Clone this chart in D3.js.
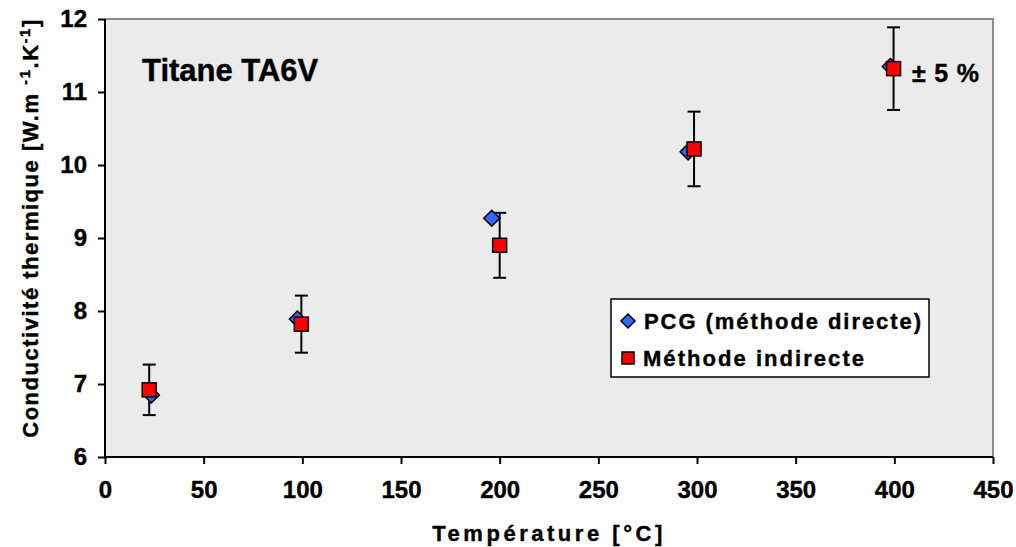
<!DOCTYPE html>
<html>
<head>
<meta charset="utf-8">
<script src="https://cdn.jsdelivr.net/npm/d3@7"></script>
<style>
  html, body { margin: 0; padding: 0; background: #fff; }
  svg { display: block; }
  text { font-family: "Liberation Sans", Arial, Helvetica, sans-serif; font-weight: bold; fill: #000; }
</style>
</head>
<body>
<svg id="chart" width="1016" height="547"></svg>
<script>
// ---- data ----
const pcgTemps = [23.5, 97.5, 196, 295.5, 398];
const pcgValues = [6.85, 7.89, 9.27, 10.18, 11.35];
const indTemps = [22.4, 99.5, 200, 298.5, 399.6];
const indValues = [6.92, 7.82, 8.90, 10.22, 11.32];
const errorPct = 5;
const xTicks = [0, 50, 100, 150, 200, 250, 300, 350, 400, 450];
const yTicks = [6, 7, 8, 9, 10, 11, 12];
const seriesNames = ["PCG (méthode directe)", "Méthode indirecte"];

const svg = d3.select("#chart");
const L = 105, R = 993, T = 19, B = 457;
const x = d3.scaleLinear().domain([0, 450]).range([L, R]);
const y = d3.scaleLinear().domain([6, 12]).range([B, T]);

function fitWidth(sel, target) {
  const node = sel.node();
  const natural = node.getComputedTextLength();
  const n = node.textContent.length;
  if (n > 1) sel.style("letter-spacing", ((target - natural) / (n - 1)) + "px");
}

// plot background
svg.append("rect").attr("x", L).attr("y", T).attr("width", R - L).attr("height", B - T)
  .attr("fill", "#ebebeb");
// top & right border (grey)
svg.append("path").attr("d", `M${L},${T}H${R}V${B}`).attr("fill", "none")
  .attr("stroke", "#8c8c8c").attr("stroke-width", 2);

// axes
const xAxis = svg.append("g").attr("transform", `translate(0,${B})`)
  .call(d3.axisBottom(x).tickValues(xTicks).tickSize(7).tickPadding(17).tickFormat(d3.format("d")));
const yAxis = svg.append("g").attr("transform", `translate(${L},0)`)
  .call(d3.axisLeft(y).tickValues(yTicks).tickSize(7).tickPadding(11).tickFormat(d3.format("d")));
[xAxis, yAxis].forEach(g => {
  g.attr("font-size", null).attr("font-family", null);
  g.select(".domain").attr("stroke", "#000").attr("stroke-width", 2);
  g.selectAll(".tick line").attr("stroke", "#000").attr("stroke-width", 2);
  g.selectAll(".tick text").style("font-size", "24px").style("font-weight", "bold")
    .attr("fill", "#000").attr("stroke", "#000").attr("stroke-width", 0.4);
});
xAxis.select(".domain").attr("d", `M${L},0H${R}`);
yAxis.select(".domain").attr("d", `M0,${T}V${B}`);

// error bars (Méthode indirecte)
const eb = svg.append("g");
indTemps.forEach((t, i) => {
  const v = indValues[i];
  const lo = v * (1 - errorPct / 100), hi = v * (1 + errorPct / 100);
  const cx = x(t);
  eb.append("line").attr("x1", cx).attr("x2", cx).attr("y1", y(lo)).attr("y2", y(hi))
    .attr("stroke", "#000").attr("stroke-width", 2);
  [lo, hi].forEach(e => eb.append("line").attr("x1", cx - 6.5).attr("x2", cx + 6.5)
    .attr("y1", y(e)).attr("y2", y(e)).attr("stroke", "#000").attr("stroke-width", 2));
});

// diamonds (PCG)
const dsize = 8;
svg.append("g").selectAll("path").data(pcgTemps).join("path")
  .attr("d", (t, i) => { const cx = x(t), cy = y(pcgValues[i]);
    return `M${cx},${cy - dsize}L${cx + dsize},${cy}L${cx},${cy + dsize}L${cx - dsize},${cy}Z`; })
  .attr("fill", "#3366ff").attr("stroke", "#000").attr("stroke-width", 1.5);

// squares (indirecte)
const ss = 14;
svg.append("g").selectAll("rect").data(indTemps).join("rect")
  .attr("x", t => x(t) - ss / 2).attr("y", (t, i) => y(indValues[i]) - ss / 2)
  .attr("width", ss).attr("height", ss)
  .attr("fill", "#ff0000").attr("stroke", "#000").attr("stroke-width", 1.5);

const bold = s => s.attr("stroke", "#000").attr("stroke-width", 0.4);

// title
bold(svg.append("text").attr("x", 142).attr("y", 81).style("font-size", "31px").text("Titane TA6V"));

// ± 5 %
const pm = bold(svg.append("text").attr("x", 912).attr("y", 82).style("font-size", "25px").text("± 5 %"));
fitWidth(pm, 67);

// legend
const lg = svg.append("g");
lg.append("rect").attr("x", 611).attr("y", 299).attr("width", 318).attr("height", 78)
  .attr("fill", "#fff").attr("stroke", "#000").attr("stroke-width", 1.5);
lg.append("path").attr("d", `M628,${321 - 7}L${635},321L628,${321 + 7}L${621},321Z`)
  .attr("fill", "#3366ff").attr("stroke", "#000").attr("stroke-width", 1.5);
lg.append("rect").attr("x", 622).attr("y", 352).attr("width", 12).attr("height", 12)
  .attr("fill", "#ff0000").attr("stroke", "#000").attr("stroke-width", 1.5);
const l1 = bold(lg.append("text").attr("x", 644).attr("y", 329).style("font-size", "22px").text(seriesNames[0]));
fitWidth(l1, 277);
const l2 = bold(lg.append("text").attr("x", 643).attr("y", 366).style("font-size", "22px").text(seriesNames[1]));
fitWidth(l2, 221);

// x label
const xl = bold(svg.append("text").attr("x", 549).attr("y", 541).attr("text-anchor", "middle")
  .style("font-size", "22px").text("Température [°C]"));
fitWidth(xl, 230);

// y label
const yl = bold(svg.append("text").attr("transform", "translate(38,228) rotate(-90)")
  .attr("text-anchor", "middle").style("font-size", "22px"));
yl.append("tspan").text("Conductivité thermique [W.m ");
yl.append("tspan").attr("dy", -8).style("font-size", "15px").text("-1");
yl.append("tspan").attr("dy", 8).text(".K");
yl.append("tspan").attr("dy", -8).style("font-size", "15px").text("-1");
yl.append("tspan").attr("dy", 8).text("]");
fitWidth(yl, 418);
</script>
</body>
</html>
